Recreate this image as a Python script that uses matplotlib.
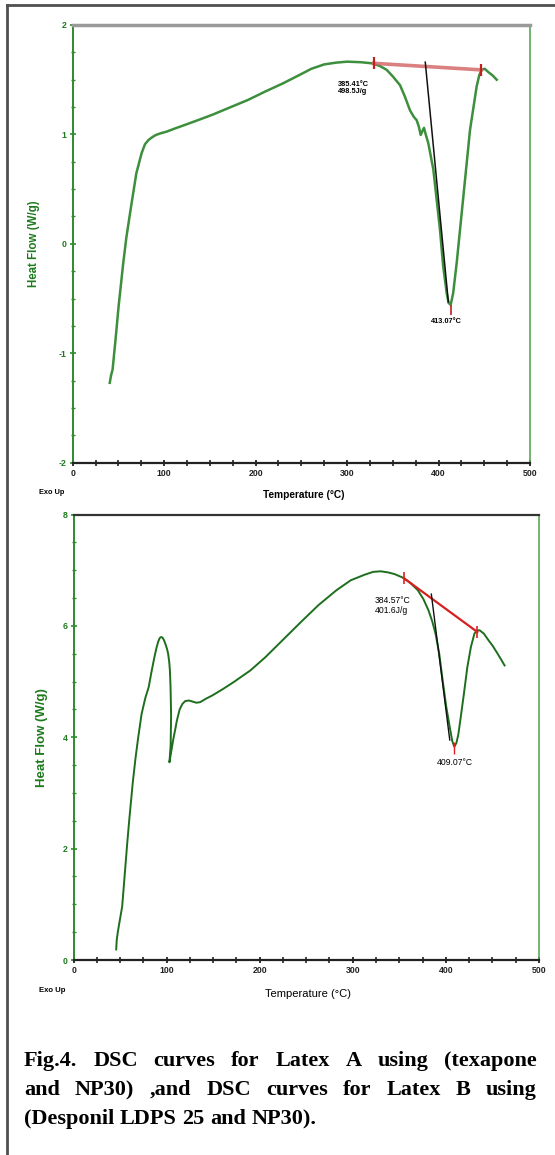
import numpy as np
import matplotlib.pyplot as plt
from matplotlib.lines import Line2D
from matplotlib.ticker import MultipleLocator

plt.rcParams['font.family'] = ['Liberation Sans', 'DejaVu Sans']
plt.rcParams['axes.unicode_minus'] = False

# Latex A (texapone + NP30)
temp_a = [40.5, 42, 43.6, 47, 50.2, 55.2, 58.7, 63.8, 69.6, 75.4, 79, 83, 87, 91, 96, 102.5,
          112, 125.7, 140, 152.8, 170, 191.6, 210, 230, 246, 261, 275, 288, 300, 315, 327,
          336, 343.3, 350, 357.9, 363, 368.8, 373, 376.1, 378.5, 380.5, 382.3, 384.1, 386,
          388.8, 394.3, 401.6, 405, 408.9, 411, 413.3, 416, 419.9, 427.1, 434.4, 441.7,
          444.5, 447.2, 450.5, 454.4, 459, 463.6]
flow_a = [-1.27, -1.2, -1.15, -0.86, -0.57, -0.18, 0.06, 0.34, 0.646, 0.83, 0.91, 0.95, 0.975,
          0.995, 1.01, 1.025, 1.055, 1.096, 1.14, 1.18, 1.24, 1.315, 1.39, 1.467, 1.535, 1.6,
          1.64, 1.656, 1.665, 1.66, 1.65, 1.625, 1.59, 1.53, 1.45, 1.35, 1.22, 1.16, 1.13,
          1.07, 0.995, 1.03, 1.06, 1.0, 0.92, 0.68, 0.128, -0.2, -0.45, -0.54, -0.557, -0.45,
          -0.17, 0.43, 1.04, 1.44, 1.54, 1.59, 1.6, 1.57, 1.54, 1.50]
base_a_t = [329, 446.4]
base_a_v = [1.65, 1.59]
tang_a_t = [385.5, 410.7]
tang_a_v = [1.66, -0.53]

# Latex B (Desponil LDPS 25 + NP30)
temp_b = [45.8, 46.3, 47.5, 49, 52.2, 57.9, 60, 63.5, 66.5, 69.3, 73.1, 77, 80.7, 84, 87, 89,
          91, 92.5, 94, 95.5, 97, 99, 100.5, 101.6, 102.8, 103.5, 104.2, 104.8, 104.3, 103,
          105, 107, 109, 111, 114, 117, 120, 124, 128, 132, 136, 142, 149, 160, 172, 190,
          206.3, 225, 244.4, 263, 282.5, 298, 313, 322, 330, 338, 345, 354.7, 362, 370, 376,
          381.4, 385.5, 389, 393, 396.7, 400.5, 404.3, 407, 409.2, 411.5, 413.5, 415.6,
          419.5, 423.2, 427, 430.8, 433.5, 436.5, 441, 446, 450.5, 455, 459, 463.2]
flow_b = [0.19, 0.35, 0.5, 0.65, 0.96, 2.15, 2.55, 3.17, 3.62, 3.98, 4.42, 4.7, 4.90, 5.2,
          5.45, 5.6, 5.72, 5.78, 5.80, 5.79, 5.75, 5.66, 5.58, 5.50, 5.35, 5.20, 4.90, 4.40,
          3.85, 3.55, 3.75, 3.95, 4.12, 4.3, 4.5, 4.6, 4.65, 4.66, 4.64, 4.62, 4.63, 4.69,
          4.75, 4.86, 4.99, 5.2, 5.44, 5.75, 6.07, 6.37, 6.64, 6.82, 6.92, 6.97, 6.98, 6.96,
          6.93, 6.86, 6.77, 6.64, 6.48, 6.28, 6.08, 5.86, 5.5, 5.02, 4.55, 4.18, 3.93, 3.83,
          3.9, 4.05, 4.30, 4.78, 5.26, 5.62, 5.86, 5.92, 5.92, 5.86, 5.74, 5.64, 5.52, 5.41,
          5.29]
base_b_t = [354.7, 434]
base_b_v = [6.86, 5.89]
tang_b_t = [384.5, 404.3]
tang_b_v = [6.57, 3.95]

caption_lines = ["Fig.4. DSC curves for Latex A using (texapone",
                 "and NP30) ,and DSC curves for Latex B using",
                 "(Desponil LDPS 25 and NP30)."]

W, H = 555, 1155
fig = plt.figure(figsize=(W / 100, H / 100), dpi=100)

# outer frame (left and top edges visible)
fig.add_artist(Line2D([6.5 / W, 6.5 / W], [0, 1 - 5 / H], transform=fig.transFigure,
                      color='#505050', lw=2))
fig.add_artist(Line2D([6.5 / W, 1], [1 - 5 / H, 1 - 5 / H], transform=fig.transFigure,
                      color='#505050', lw=2))

green_lab = '#1f7a1f'


def style_axes(ax, top_col, top_lw, ymin, ymax, ymaj, ymin_step):
    ax.set_xlim(0, 500)
    ax.set_ylim(ymin, ymax)
    ax.spines['top'].set_color(top_col)
    ax.spines['top'].set_linewidth(top_lw)
    ax.spines['left'].set_color('#2e8b2e')
    ax.spines['left'].set_linewidth(1.4)
    ax.spines['right'].set_color('#5aa85a')
    ax.spines['right'].set_linewidth(1.2)
    ax.spines['bottom'].set_color('#222222')
    ax.spines['bottom'].set_linewidth(1.6)
    ax.xaxis.set_major_locator(MultipleLocator(100))
    ax.xaxis.set_minor_locator(MultipleLocator(25))
    ax.yaxis.set_major_locator(MultipleLocator(ymaj))
    ax.yaxis.set_minor_locator(MultipleLocator(ymin_step))
    ax.tick_params(axis='x', which='major', direction='inout', length=5, width=1.3,
                   colors='#222222', labelsize=6.3, pad=2)
    ax.tick_params(axis='x', which='minor', direction='inout', length=4, width=1.2,
                   colors='#222222')
    ax.tick_params(axis='y', which='major', direction='inout', length=5, width=1.2,
                   colors='#2e8b2e', labelcolor=green_lab, labelsize=6.3, pad=2)
    ax.tick_params(axis='y', which='minor', direction='inout', length=3, width=1.0,
                   colors='#2e8b2e')
    for lab in ax.get_xticklabels() + ax.get_yticklabels():
        lab.set_fontweight('bold')


# ---- top plot ----
ax1 = fig.add_axes([72.7 / W, 1 - 462.7 / H, 457.3 / W, 437.7 / H])
style_axes(ax1, '#9a9a9a', 2.5, -2, 2, 1, 0.25)
ax1.plot(temp_a, flow_a, color='#3d8f3d', lw=1.8)
ax1.plot(base_a_t, base_a_v, color='#d46a6a', lw=2.6, alpha=0.85)
ax1.plot(base_a_t, base_a_v, ls='none', marker='|', ms=9, mew=1.6, color='#c02020')
ax1.plot(tang_a_t, tang_a_v, color='#111111', lw=1.1)
ax1.plot([413.3], [-0.6], ls='none', marker='|', ms=7, mew=1.2, color='#c02020')
ax1.text(290, 1.49, "385.41°C\n498.5J/g", fontsize=5.3, fontweight='bold',
         ha='left', va='top', linespacing=1.05)
ax1.text(408.8, -0.71, "413.07°C", fontsize=5.3, fontweight='bold', ha='center', va='center')
ax1.set_ylabel("Heat Flow (W/g)", color=green_lab, fontsize=8.3, fontweight='bold')
ax1.yaxis.set_label_coords((39.5 - 72.7) / 457.3, 0.5)
fig.text(52 / W, 1 - 493 / H, "Exo Up", fontsize=5.3, fontweight='bold', ha='center', va='center')
fig.text(304 / W, 1 - 495 / H, "Temperature (°C)", fontsize=7.3, fontweight='bold',
         ha='center', va='center')

# ---- bottom plot ----
ax2 = fig.add_axes([73.6 / W, 1 - 960 / H, 465.2 / W, 445.5 / H])
style_axes(ax2, '#333333', 1.6, 0, 8, 2, 0.5)
ax2.plot(temp_b, flow_b, color='#1d6e1d', lw=1.4)
ax2.plot(base_b_t, base_b_v, color='#d42020', lw=1.6)
ax2.plot(base_b_t, base_b_v, ls='none', marker='|', ms=9, mew=1.2, color='#e02020')
ax2.plot(tang_b_t, tang_b_v, color='#111111', lw=1.0)
ax2.plot([409.2], [3.8], ls='none', marker='|', ms=8, mew=1.0, color='#e02020')
ax2.text(323.4, 6.53, "384.57°C\n401.6J/g", fontsize=6.2, ha='left', va='top', linespacing=1.1)
ax2.text(410, 3.54, "409.07°C", fontsize=6.2, ha='center', va='center')
ax2.set_ylabel("Heat Flow (W/g)", color=green_lab, fontsize=9.5, fontweight='bold')
ax2.yaxis.set_label_coords((47.8 - 73.6) / 465.2, 0.5)
fig.text(52.5 / W, 1 - 990 / H, "Exo Up", fontsize=5.6, fontweight='bold', ha='center', va='center')
fig.text(308 / W, 1 - 994 / H, "Temperature (°C)", fontsize=8.0, ha='center', va='center')

# ---- justified caption ----
left_px, right_px = 24, 537
baselines = [1066, 1095, 1124]
fig.canvas.draw()
rend = fig.canvas.get_renderer()
for i, line in enumerate(caption_lines):
    words = line.split()
    y = 1 - baselines[i] / H
    texts = [fig.text(0, y, w, fontsize=16, family=['Liberation Serif', 'DejaVu Serif'],
                      fontweight='bold', va='baseline', ha='left') for w in words]
    widths = [t.get_window_extent(rend).width for t in texts]
    if i < len(caption_lines) - 1:
        gap = (right_px - left_px - sum(widths)) / (len(words) - 1)
    else:
        gap = 5.5
    x = left_px
    for t, w in zip(texts, widths):
        t.set_x(x / W)
        x += w + gap

fig.savefig("out.png", dpi=100)
